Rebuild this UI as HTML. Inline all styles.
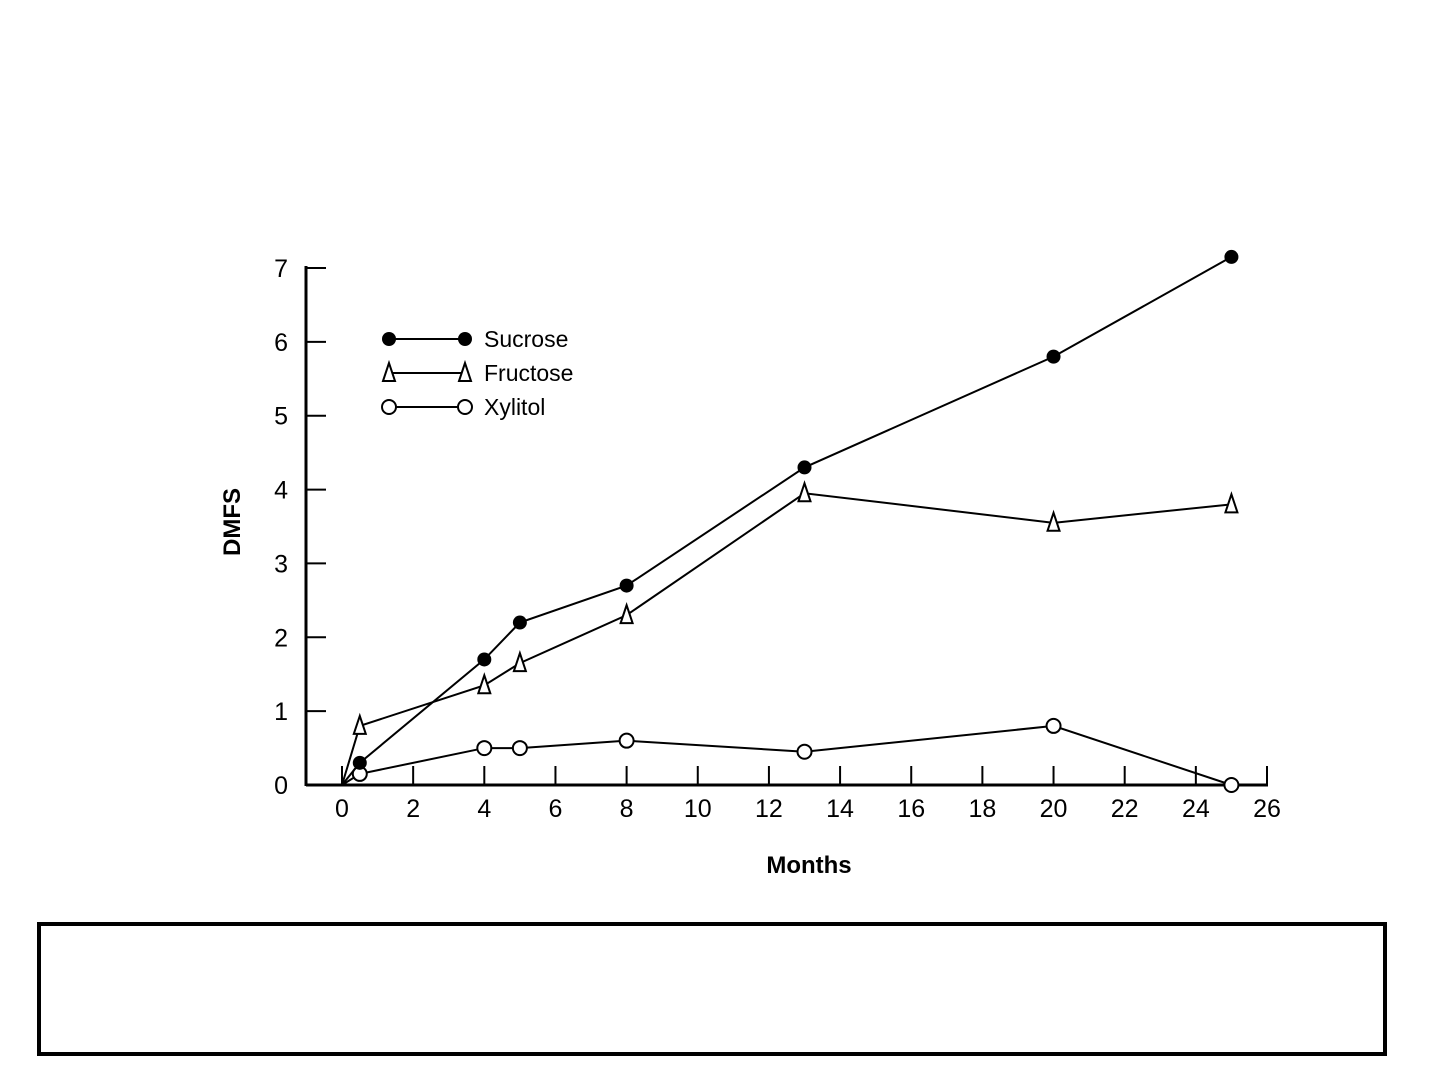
<!DOCTYPE html>
<html><head><meta charset="utf-8"><style>
html,body{margin:0;padding:0;background:#fff;}
svg{display:block;font-family:"Liberation Sans",sans-serif;}
</style></head><body>
<svg id="chart" width="1437" height="1077" viewBox="0 0 1437 1077">
<g id="axes"></g>
<g id="series"></g>
<g id="legend"></g>
<text x="240" y="522" font-size="24" font-weight="bold" text-anchor="middle" transform="rotate(-90 240 522)">DMFS</text>
<text x="809" y="873" font-size="24" font-weight="bold" text-anchor="middle">Months</text>
<rect x="39" y="924" width="1346" height="130" fill="#fff" stroke="#000" stroke-width="4"/>
</svg>
<script>
const months=[0,0.5,4,5,8,13,20,25];
const sucrose=[0,0.3,1.7,2.2,2.7,4.3,5.8,7.15];
const fructose=[0,0.8,1.35,1.65,2.3,3.95,3.55,3.8];
const xylitol=[0,0.15,0.5,0.5,0.6,0.45,0.8,0];
const xTicks=[0,2,4,6,8,10,12,14,16,18,20,22,24,26];
const yTicks=[0,1,2,3,4,5,6,7];
const NS="http://www.w3.org/2000/svg";
const X=v=>342+v*(1267-342)/26;
const Y=v=>785-v*(785-268)/7;
function mk(tag,attrs,parent){const e=document.createElementNS(NS,tag);for(const k in attrs)e.setAttribute(k,attrs[k]);parent.appendChild(e);return e;}
const axes=document.getElementById('axes');
let l=mk('line',{x1:306,y1:785,x2:1268,y2:785,stroke:'#000','stroke-width':3},axes);


l=mk('line',{x1:306,y1:266,x2:306,y2:786,stroke:'#000','stroke-width':3},axes);


xTicks.forEach(t=>{
  const tk=mk('line',{x1:X(t),y1:785,x2:X(t),y2:766,stroke:'#000','stroke-width':2},axes);
  
  
  const tx=mk('text',{x:X(t),y:817,'font-size':25,'text-anchor':'middle'},axes);
  tx.textContent=t;
  
  
});
yTicks.forEach(t=>{
  const tk=mk('line',{x1:306,y1:Y(t),x2:326,y2:Y(t),stroke:'#000','stroke-width':2},axes);
  
  
  const tx=mk('text',{x:288,y:Y(t)+9,'font-size':25,'text-anchor':'end'},axes);
  tx.textContent=t;
  
  
});
const sg=document.getElementById('series');
function marker(kind,cx,cy,parent){
  let m;
  if(kind==='dot') m=mk('circle',{cx,cy,r:7,fill:'#000'},parent);
  else if(kind==='circle') m=mk('circle',{cx,cy,r:7,fill:'#fff',stroke:'#000','stroke-width':2},parent);
  else m=mk('polygon',{points:`${cx},${cy-10} ${cx-6},${cy+8} ${cx+6},${cy+8}`,fill:'#fff',stroke:'#000','stroke-width':2},parent);
  return m;
}
function drawSeries(vals,kind,name){
  const g=mk('g',{},sg);
  
  
  const pts=months.map((m,i)=>X(m)+','+Y(vals[i])).join(' ');
  const pl=mk('polyline',{points:pts,fill:'none',stroke:'#000','stroke-width':2},g);
  
  
  months.forEach((m,i)=>{
    if(i===0)return;
    const mm=marker(kind,X(m),Y(vals[i]),g);
    
    
  });
}
drawSeries(xylitol,'circle','xylitol');
drawSeries(fructose,'tri','fructose');
drawSeries(sucrose,'dot','sucrose');
const lg=document.getElementById('legend');
[['Sucrose','dot',339],['Fructose','tri',373],['Xylitol','circle',407]].forEach(([n,k,y])=>{
  const g=mk('g',{},lg);
  
  
  mk('line',{x1:389,y1:y,x2:465,y2:y,stroke:'#000','stroke-width':2},g);
  marker(k,389,y,g);marker(k,465,y,g);
  const t=mk('text',{x:484,y:y+8,'font-size':23},g);
  t.textContent=n;
});
</script>
</body></html>
